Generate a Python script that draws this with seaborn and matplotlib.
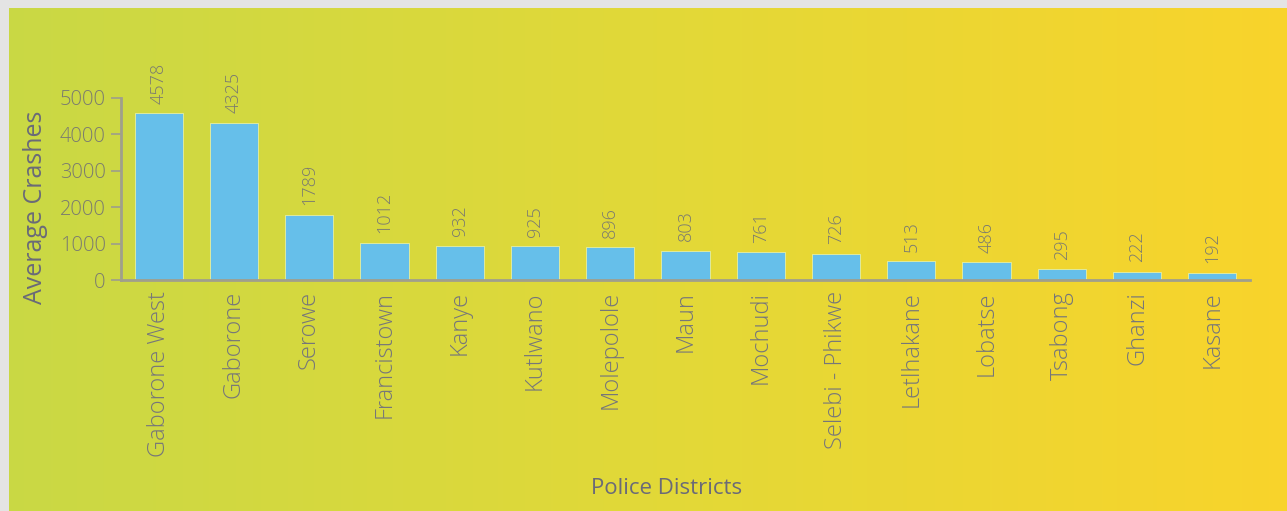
import numpy as np
import pandas as pd
import matplotlib
matplotlib.use("Agg")
import matplotlib.pyplot as plt
import seaborn as sns

districts = ["Gaborone West", "Gaborone", "Serowe", "Francistown", "Kanye",
             "Kutlwano", "Molepolole", "Maun", "Mochudi", "Selebi - Phikwe",
             "Letlhakane", "Lobatse", "Tsabong", "Ghanzi", "Kasane"]
crashes = [4578, 4325, 1789, 1012, 932, 925, 896, 803, 761, 726,
           513, 486, 295, 222, 192]
y_ticks = [0, 1000, 2000, 3000, 4000, 5000]

df = pd.DataFrame({"district": districts, "crashes": crashes})

sns.set_theme(style="white")
plt.rcParams["font.family"] = ["Open Sans", "DejaVu Sans"]

W, H = 1287, 511
fig = plt.figure(figsize=(W / 100, H / 100), dpi=100)
fig.patch.set_facecolor("#e4e4e4")

# gradient panel behind the chart
bg = fig.add_axes([9 / W, 0, 1 - 9 / W, (H - 8) / H], zorder=0)
left_c = np.array([0.79, 0.85, 0.27])
mid_c = np.array([0.885, 0.85, 0.22])
right_c = np.array([0.975, 0.83, 0.17])
t = np.linspace(0, 1, 512)
cols = np.where(t[:, None] < 0.5,
                left_c + (mid_c - left_c) * (t[:, None] / 0.5),
                mid_c + (right_c - mid_c) * ((t[:, None] - 0.5) / 0.5))
bg.imshow(cols[None, :, :], aspect="auto", extent=[0, 1, 0, 1])
bg.set_axis_off()

ax_l, ax_r = 121 / W, 1250 / W
ax_b, ax_t = (H - 280) / H, (H - 98) / H
ax = fig.add_axes([ax_l, ax_b, ax_r - ax_l, ax_t - ax_b], zorder=1)
ax.patch.set_alpha(0)

sns.barplot(data=df, x="district", y="crashes", color="#66bfea",
            saturation=1, width=0.64, edgecolor="#e8f0a0", linewidth=0.6,
            ax=ax)

text_grey = "#76767a"
ax.set_ylim(0, 5000)
ax.set_xlim(-0.5, len(districts) - 0.5)
ax.set_yticks(y_ticks)
ax.set_yticklabels([str(v) for v in y_ticks], fontsize=14.5, color="#7a7a70",
                   fontweight="light")
ax.set_xticks(range(len(districts)))
ax.set_xticklabels(districts, rotation=90, fontsize=17, color=text_grey,
                   fontweight="light")
ax.tick_params(axis="y", length=7, width=1.2, color="#9e9e8c", pad=4, left=True)
ax.tick_params(axis="x", length=0, pad=8)

for s in ["top", "right"]:
    ax.spines[s].set_visible(False)
for s in ["left", "bottom"]:
    ax.spines[s].set_color("#a09f8c")
    ax.spines[s].set_linewidth(2)

for i, v in enumerate(crashes):
    ax.annotate(str(v), (i, v), xytext=(0, 7), textcoords="offset points",
                rotation=90, ha="center", va="bottom", fontsize=13,
                color="#7a7a70", fontweight="light")

ax.set_ylabel("Average Crashes", fontsize=18, color="#6a6a78",
              fontweight="medium")
ax.yaxis.set_label_coords(-0.076, 0.40)
ax.yaxis.label.set_verticalalignment("center")
ax.set_xlabel("Police Districts", fontsize=16, color="#6a6a78")
ax.xaxis.set_label_coords(0.483, -1.143)
ax.xaxis.label.set_verticalalignment("center")

fig.savefig("out.png", dpi=100)
